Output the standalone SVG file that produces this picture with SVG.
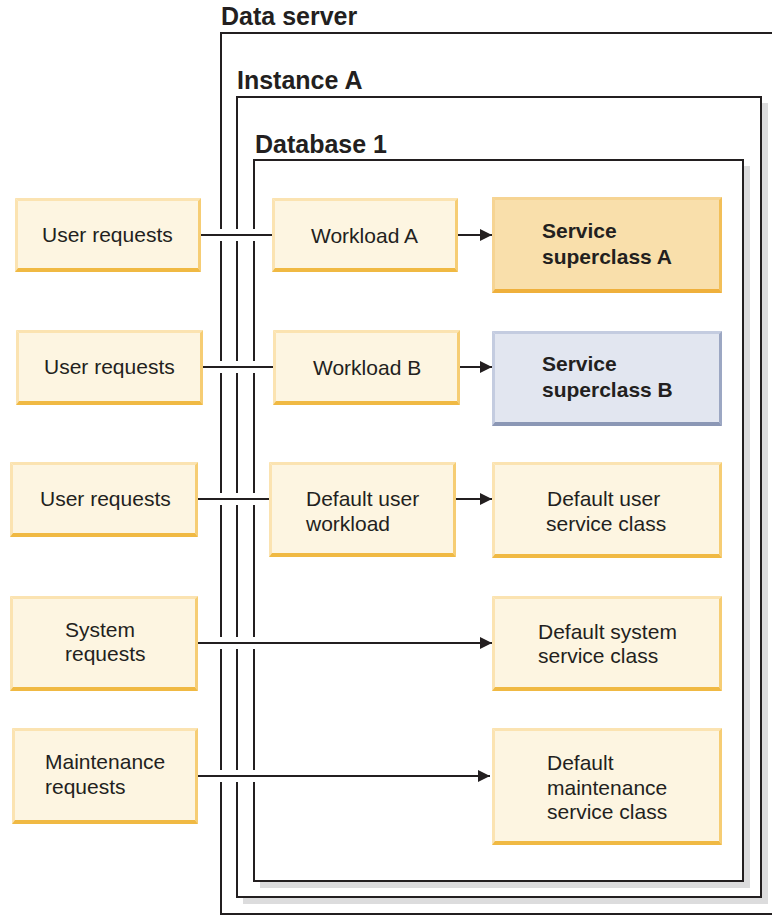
<svg xmlns="http://www.w3.org/2000/svg" width="772" height="916" viewBox="0 0 772 916">
<style>
.t{font-family:"Liberation Sans",Arial,sans-serif;font-size:21px;fill:#231f20}
.b{font-weight:bold}
.h{font-family:"Liberation Sans",Arial,sans-serif;font-size:25px;font-weight:bold;fill:#231f20}
.frame{fill:none;stroke:#231f20;stroke-width:2}
.shadow{fill:#dcdcdd}
.ln{stroke:#231f20;stroke-width:2;fill:none}
.gap{fill:#ffffff}
.cf{fill:#fdf5e1}.ct{fill:#fbe3b1}.cr{fill:#f6cd74}.cb{fill:#f0b943}
.af{fill:#f9dfab}.at{fill:#f6d493}.ar{fill:#f2bf58}.ab{fill:#efb03c}
.bf{fill:#e2e6f0}.bt{fill:#c4cce0}.br{fill:#9ca7c3}.bb{fill:#8b97b5}
</style>
<defs>
<marker id="arr" markerUnits="userSpaceOnUse" markerWidth="12" markerHeight="12" refX="12" refY="6" orient="auto">
<path d="M0,0 L12,6 L0,12 z" fill="#231f20"/>
</marker>
</defs>

<g id="data-server">
<text class="h" x="221" y="25">Data server</text>
<rect class="frame" x="221" y="33" width="560" height="881"/>
</g>
<g id="instance-a">
<text class="h" x="237" y="89">Instance A</text>
<rect class="shadow" x="243" y="897" width="525" height="7"/>
<rect class="shadow" x="761" y="103" width="7" height="801"/>
<rect class="frame" x="237" y="97" width="524" height="800"/>
</g>
<g id="database-1">
<text class="h" x="255" y="153">Database 1</text>
<rect class="shadow" x="260" y="881" width="490" height="7"/>
<rect class="shadow" x="743" y="166" width="7" height="722"/>
<rect class="frame" x="254" y="160" width="489" height="721"/>
</g>

<g id="connectors">
<rect class="gap" x="212" y="229" width="50" height="12"/>
<rect class="gap" x="212" y="361" width="50" height="12"/>
<rect class="gap" x="212" y="493" width="50" height="12"/>
<rect class="gap" x="212" y="637" width="50" height="12"/>
<rect class="gap" x="212" y="770" width="50" height="12"/>
<line class="ln" x1="201" y1="235" x2="272" y2="235"/>
<line class="ln" x1="458" y1="235" x2="492" y2="235" marker-end="url(#arr)"/>
<line class="ln" x1="203" y1="367" x2="273" y2="367"/>
<line class="ln" x1="460" y1="367" x2="492" y2="367" marker-end="url(#arr)"/>
<line class="ln" x1="198" y1="499" x2="269" y2="499"/>
<line class="ln" x1="456" y1="499" x2="492" y2="499" marker-end="url(#arr)"/>
<line class="ln" x1="198" y1="643" x2="492" y2="643" marker-end="url(#arr)"/>
<line class="ln" x1="198" y1="776" x2="490" y2="776" marker-end="url(#arr)"/>
</g>

<g id="user-requests-1">
<rect class="cf" x="15" y="198" width="186" height="74"/>
<polygon class="ct" points="15,198 201,198 198,201 18,201"/>
<polygon class="ct" points="15,198 18,201 18,268 15,272"/>
<polygon class="cr" points="201,198 201,272 198,268 198,201"/>
<polygon class="cb" points="15,272 201,272 198,268 18,268"/>
<text class="t" x="42" y="242">User requests</text>
</g>
<g id="user-requests-2">
<rect class="cf" x="16" y="330" width="187" height="75"/>
<polygon class="ct" points="16,330 203,330 200,333 19,333"/>
<polygon class="ct" points="16,330 19,333 19,401 16,405"/>
<polygon class="cr" points="203,330 203,405 200,401 200,333"/>
<polygon class="cb" points="16,405 203,405 200,401 19,401"/>
<text class="t" x="44" y="374">User requests</text>
</g>
<g id="user-requests-3">
<rect class="cf" x="10" y="462" width="188" height="75"/>
<polygon class="ct" points="10,462 198,462 195,465 13,465"/>
<polygon class="ct" points="10,462 13,465 13,533 10,537"/>
<polygon class="cr" points="198,462 198,537 195,533 195,465"/>
<polygon class="cb" points="10,537 198,537 195,533 13,533"/>
<text class="t" x="40" y="506">User requests</text>
</g>
<g id="system-requests">
<rect class="cf" x="10" y="596" width="188" height="95"/>
<polygon class="ct" points="10,596 198,596 195,599 13,599"/>
<polygon class="ct" points="10,596 13,599 13,687 10,691"/>
<polygon class="cr" points="198,596 198,691 195,687 195,599"/>
<polygon class="cb" points="10,691 198,691 195,687 13,687"/>
<text class="t" x="65" y="637">System</text>
<text class="t" x="65" y="661">requests</text>
</g>
<g id="maintenance-requests">
<rect class="cf" x="12" y="728" width="186" height="96"/>
<polygon class="ct" points="12,728 198,728 195,731 15,731"/>
<polygon class="ct" points="12,728 15,731 15,820 12,824"/>
<polygon class="cr" points="198,728 198,824 195,820 195,731"/>
<polygon class="cb" points="12,824 198,824 195,820 15,820"/>
<text class="t" x="45" y="769">Maintenance</text>
<text class="t" x="45" y="794">requests</text>
</g>

<g id="workload-a">
<rect class="cf" x="272" y="198" width="186" height="74"/>
<polygon class="ct" points="272,198 458,198 455,201 275,201"/>
<polygon class="ct" points="272,198 275,201 275,268 272,272"/>
<polygon class="cr" points="458,198 458,272 455,268 455,201"/>
<polygon class="cb" points="272,272 458,272 455,268 275,268"/>
<text class="t" x="311" y="243">Workload A</text>
</g>
<g id="workload-b">
<rect class="cf" x="273" y="330" width="187" height="75"/>
<polygon class="ct" points="273,330 460,330 457,333 276,333"/>
<polygon class="ct" points="273,330 276,333 276,401 273,405"/>
<polygon class="cr" points="460,330 460,405 457,401 457,333"/>
<polygon class="cb" points="273,405 460,405 457,401 276,401"/>
<text class="t" x="313" y="375">Workload B</text>
</g>
<g id="default-user-workload">
<rect class="cf" x="269" y="462" width="187" height="95"/>
<polygon class="ct" points="269,462 456,462 453,465 272,465"/>
<polygon class="ct" points="269,462 272,465 272,553 269,557"/>
<polygon class="cr" points="456,462 456,557 453,553 453,465"/>
<polygon class="cb" points="269,557 456,557 453,553 272,553"/>
<text class="t" x="306" y="506">Default user</text>
<text class="t" x="306" y="531">workload</text>
</g>

<g id="service-superclass-a">
<rect class="af" x="492" y="197" width="230" height="96"/>
<polygon class="at" points="492,197 722,197 719,200 495,200"/>
<polygon class="at" points="492,197 495,200 495,289 492,293"/>
<polygon class="ar" points="722,197 722,293 719,289 719,200"/>
<polygon class="ab" points="492,293 722,293 719,289 495,289"/>
<text class="t b" x="542" y="238">Service</text>
<text class="t b" x="542" y="264">superclass A</text>
</g>
<g id="service-superclass-b">
<rect class="bf" x="492" y="331" width="230" height="95"/>
<polygon class="bt" points="492,331 722,331 719,334 495,334"/>
<polygon class="bt" points="492,331 495,334 495,422 492,426"/>
<polygon class="br" points="722,331 722,426 719,422 719,334"/>
<polygon class="bb" points="492,426 722,426 719,422 495,422"/>
<text class="t b" x="542" y="371">Service</text>
<text class="t b" x="542" y="397">superclass B</text>
</g>
<g id="default-user-service-class">
<rect class="cf" x="492" y="462" width="230" height="96"/>
<polygon class="ct" points="492,462 722,462 719,465 495,465"/>
<polygon class="ct" points="492,462 495,465 495,554 492,558"/>
<polygon class="cr" points="722,462 722,558 719,554 719,465"/>
<polygon class="cb" points="492,558 722,558 719,554 495,554"/>
<text class="t" x="547" y="506">Default user</text>
<text class="t" x="546" y="531">service class</text>
</g>
<g id="default-system-service-class">
<rect class="cf" x="492" y="596" width="230" height="95"/>
<polygon class="ct" points="492,596 722,596 719,599 495,599"/>
<polygon class="ct" points="492,596 495,599 495,687 492,691"/>
<polygon class="cr" points="722,596 722,691 719,687 719,599"/>
<polygon class="cb" points="492,691 722,691 719,687 495,687"/>
<text class="t" x="538" y="639">Default system</text>
<text class="t" x="538" y="663">service class</text>
</g>
<g id="default-maintenance-service-class">
<rect class="cf" x="492" y="728" width="230" height="117"/>
<polygon class="ct" points="492,728 722,728 719,731 495,731"/>
<polygon class="ct" points="492,728 495,731 495,841 492,845"/>
<polygon class="cr" points="722,728 722,845 719,841 719,731"/>
<polygon class="cb" points="492,845 722,845 719,841 495,841"/>
<text class="t" x="547" y="770">Default</text>
<text class="t" x="547" y="795">maintenance</text>
<text class="t" x="547" y="819">service class</text>
</g>
</svg>
